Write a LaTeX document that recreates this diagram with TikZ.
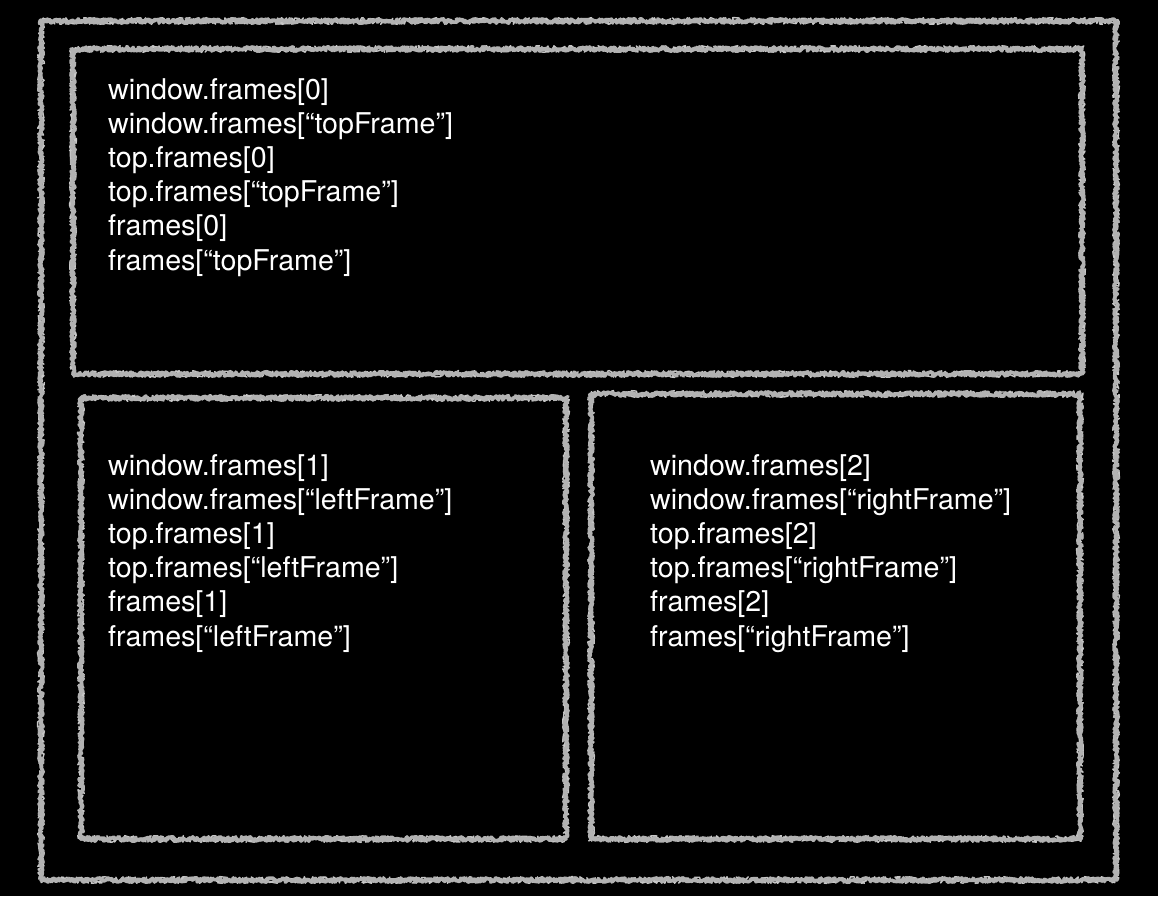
\documentclass[tikz,border=0pt]{standalone}
\usepackage{fontspec}
\setmainfont{TeX Gyre Heros}
\usetikzlibrary{decorations.pathmorphing}
\begin{document}
\begin{tikzpicture}[x=1pt,y=-1pt,
  rough/.style={draw=black!30, line width=3.6pt, line join=round,
    decorate, decoration={random steps, segment length=1.2pt, amplitude=2.2pt}},
  rougher/.style={draw=black!22, line width=1.4pt, line join=round,
    decorate, decoration={random steps, segment length=1pt, amplitude=3.4pt}},
  txt/.style={anchor=north west, inner sep=0pt, align=left, text=white,
    font=\fontsize{28.6}{34.2}\selectfont}]
\fill[black] (0,0) rectangle (1158,896);
\useasboundingbox (0,0) rectangle (1158,896);
\pgfmathsetseed{7}
\foreach \a/\b/\c/\d in {41/21/1116/880, 73/49/1082/374, 81/398/566/839, 591/394/1080/839}{
  \draw[rougher] (\a,\b) rectangle (\c,\d);
  \draw[rough] (\a,\b) rectangle (\c,\d);
}
\node[txt] (t0) at (108,78) {window.frames[0]\\window.frames[“topFrame”]\\top.frames[0]\\top.frames[“topFrame”]\\frames[0]\\frames[“topFrame”]};
\node[txt] (t1) at (108,454) {window.frames[1]\\window.frames[“leftFrame”]\\top.frames[1]\\top.frames[“leftFrame”]\\frames[1]\\frames[“leftFrame”]};
\node[txt] (t2) at (650,454) {window.frames[2]\\window.frames[“rightFrame”]\\top.frames[2]\\top.frames[“rightFrame”]\\frames[2]\\frames[“rightFrame”]};
\end{tikzpicture}
\end{document}
